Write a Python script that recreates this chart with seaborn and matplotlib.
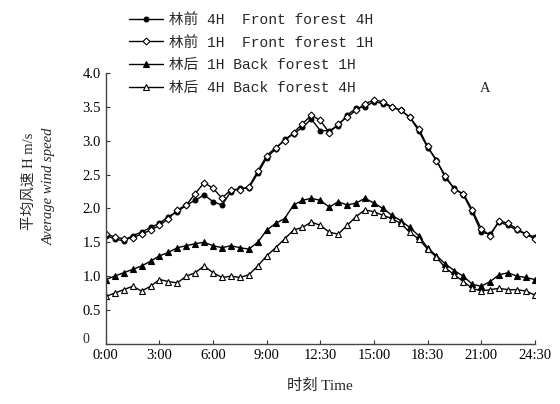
import matplotlib
matplotlib.use("Agg")
import matplotlib.pyplot as plt
import seaborn as sns
import numpy as np
import pandas as pd
from matplotlib.font_manager import FontProperties

hours = [i * 0.5 for i in range(49)]

front_4h = [1.60, 1.55, 1.52, 1.60, 1.65, 1.72, 1.78, 1.88, 1.95, 2.05,
            2.12, 2.20, 2.10, 2.05, 2.25, 2.30, 2.30, 2.52, 2.75, 2.88,
            3.02, 3.10, 3.20, 3.32, 3.15, 3.15, 3.22, 3.38, 3.48, 3.50,
            3.58, 3.55, 3.50, 3.45, 3.35, 3.15, 2.90, 2.72, 2.45, 2.30,
            2.20, 1.95, 1.65, 1.62, 1.80, 1.75, 1.68, 1.62, 1.58]
front_1h = [1.62, 1.58, 1.55, 1.57, 1.62, 1.68, 1.75, 1.85, 1.98, 2.05,
            2.22, 2.38, 2.30, 2.15, 2.28, 2.28, 2.32, 2.55, 2.78, 2.90,
            3.00, 3.12, 3.25, 3.38, 3.30, 3.12, 3.25, 3.35, 3.45, 3.55,
            3.60, 3.58, 3.50, 3.45, 3.35, 3.18, 2.92, 2.70, 2.48, 2.28,
            2.22, 1.98, 1.70, 1.60, 1.82, 1.78, 1.70, 1.62, 1.55]
back_1h = [0.95, 1.00, 1.05, 1.10, 1.15, 1.22, 1.30, 1.35, 1.42, 1.45,
           1.48, 1.50, 1.45, 1.42, 1.45, 1.42, 1.40, 1.50, 1.68, 1.78,
           1.85, 2.05, 2.12, 2.15, 2.12, 2.02, 2.10, 2.05, 2.08, 2.15,
           2.08, 2.00, 1.90, 1.82, 1.72, 1.60, 1.42, 1.30, 1.18, 1.08,
           1.00, 0.88, 0.85, 0.92, 1.02, 1.05, 1.00, 0.98, 0.95]
back_4h = [0.70, 0.75, 0.80, 0.85, 0.78, 0.85, 0.95, 0.92, 0.90, 1.00,
           1.05, 1.15, 1.05, 0.98, 1.00, 0.98, 1.02, 1.15, 1.30, 1.42,
           1.55, 1.68, 1.72, 1.80, 1.75, 1.65, 1.62, 1.75, 1.88, 1.98,
           1.95, 1.90, 1.85, 1.78, 1.65, 1.55, 1.40, 1.28, 1.12, 1.02,
           0.92, 0.82, 0.78, 0.80, 0.82, 0.80, 0.80, 0.78, 0.72]

series_labels = ["林前 4H  Front forest 4H",
                 "林前 1H  Front forest 1H",
                 "林后 1H Back forest 1H",
                 "林后 4H Back forest 4H"]
x_ticks = [0, 3, 6, 9, 12, 15, 18, 21, 24]
x_tick_labels = ["0:00", "3:00", "6:00", "9:00", "12:30", "15:00", "18:30", "21:00", "24:30"]
y_ticks = [0, 0.5, 1.0, 1.5, 2.0, 2.5, 3.0, 3.5, 4.0]

sns.set_style("ticks")
fam = ["Liberation Serif", "Noto Sans CJK SC"]
plt.rcParams["font.family"] = fam

fig = plt.figure(figsize=(5.6, 4.04), dpi=100)
ax = fig.add_axes([0.189, 0.149, 0.766, 0.670])

styles = [
    dict(marker="o", markersize=3.5, markerfacecolor="black"),
    dict(marker="D", markersize=3.5, markerfacecolor="white"),
    dict(marker="^", markersize=4.5, markerfacecolor="black"),
    dict(marker="^", markersize=4.5, markerfacecolor="white"),
]
for vals, lab, st in zip([front_4h, front_1h, back_1h, back_4h], series_labels, styles):
    df = pd.DataFrame({"h": hours, "v": vals})
    sns.lineplot(data=df, x="h", y="v", ax=ax, color="black", linewidth=1.0,
                 markeredgecolor="black", markeredgewidth=0.8, label=lab, **st)

ax.set_xlim(0, 24)
ax.set_ylim(0, 4.0)
ax.set_xticks(x_ticks)
ax.set_xticklabels(x_tick_labels, fontsize=10.5)
ax.set_yticks(y_ticks)
ax.set_yticklabels(["" if t == 0 else f"{t:.1f}" for t in y_ticks], fontsize=10.5)
ax.tick_params(direction="in", length=3, width=0.8, colors="#333333", labelcolor="black")
for s in ["top", "right"]:
    ax.spines[s].set_visible(False)
for s in ["left", "bottom"]:
    ax.spines[s].set_linewidth(1.0)
    ax.spines[s].set_color("#444444")

ax.text(-0.9, 0.07, "0", ha="right", va="center", fontsize=10)
ax.text(21.2, 3.78, "A", ha="center", va="center", fontsize=10.5)

ax.set_xlabel("时刻 Time", fontsize=11, labelpad=12)
ax.set_ylabel("")
fig.text(0.052, 0.55, "平均风速 H m/s", rotation=90, ha="center", va="center", fontsize=10.5)
fig.text(0.088, 0.54, "Average wind speed", rotation=90, ha="center", va="center",
         fontsize=10.5, style="italic")

leg_font = FontProperties(family=["Liberation Mono", "Noto Sans CJK SC"], size=10.5)
leg = ax.legend(loc="upper left", bbox_to_anchor=(0.215, 0.99), bbox_transform=fig.transFigure,
                frameon=False, prop=leg_font, handlelength=2.3, handletextpad=0.4,
                labelspacing=0.6, borderaxespad=0.2)

fig.savefig("out.png", dpi=100)
